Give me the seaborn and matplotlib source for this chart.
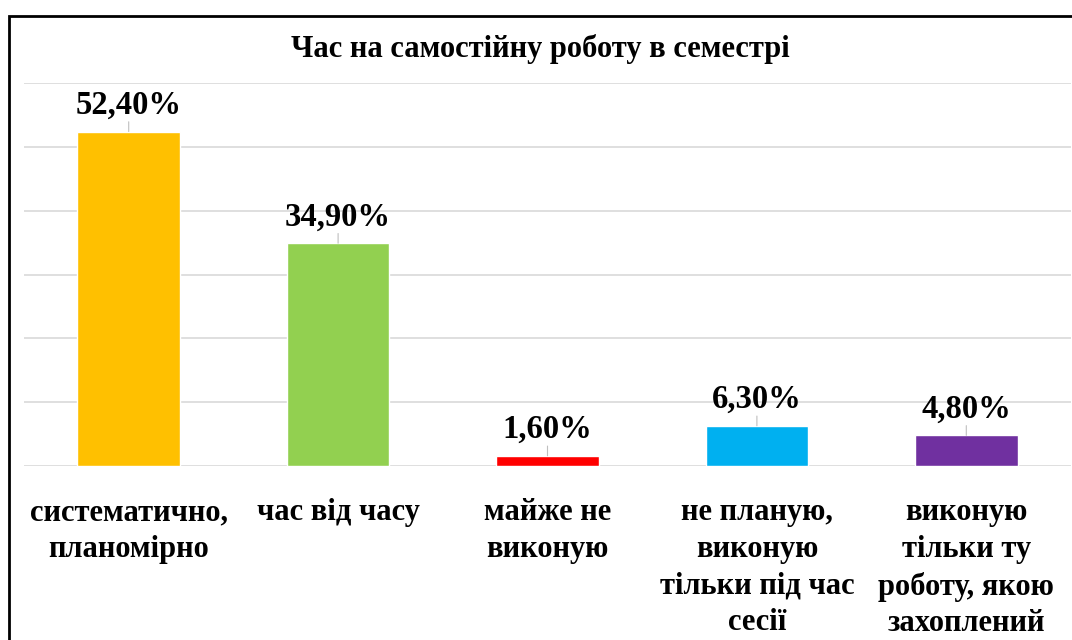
import matplotlib.pyplot as plt
import seaborn as sns
from matplotlib.patches import Rectangle

# дані з діаграми
categories = [
    "систематично,\nпланомірно",
    "час від часу",
    "майже не\nвиконую",
    "не планую,\nвиконую\nтільки під час\nсесії",
    "виконую\nтільки ту\nроботу, якою\nзахоплений",
]
values = [52.4, 34.9, 1.6, 6.3, 4.8]
labels = ["52,40%", "34,90%", "1,60%", "6,30%", "4,80%"]
colors = ["#FFC000", "#92D050", "#FF0000", "#00B0F0", "#7030A0"]
title = "Час на самостійну роботу в семестрі"

sns.set_style("white")
plt.rcParams["font.family"] = ["Liberation Serif", "DejaVu Serif"]
plt.rcParams["font.weight"] = "bold"
plt.rcParams["text.color"] = "black"
plt.rcParams["xtick.color"] = "black"

fig = plt.figure(figsize=(10.72, 6.4), dpi=100)
ax = fig.add_axes([24 / 1072, 174 / 640, 1047 / 1072, 383 / 640])

sns.barplot(x=categories, y=values, hue=categories, palette=colors,
            legend=False, width=0.49, saturation=1, ax=ax)

ax.set_ylim(0, 60)
ax.set_yticks(range(0, 61, 10))
ax.yaxis.grid(True, color="#D9D9D9", linewidth=1.2)
ax.set_axisbelow(True)
ax.set_yticklabels([])
ax.tick_params(axis="y", length=0)
ax.tick_params(axis="x", length=0, pad=23, labelsize=22, labelcolor="black")
for lbl in ax.get_xticklabels():
    lbl.set_fontweight("bold")
    lbl.set_verticalalignment("top")
    lbl.set_linespacing(1.35)
sns.despine(ax=ax, left=True, right=True, top=True, bottom=True)

# підписи значень з виносками
for i, (v, t) in enumerate(zip(values, labels)):
    ax.annotate(t, xy=(i, v), xytext=(0, 19), textcoords="offset points",
                ha="center", va="center", fontsize=23.5, fontweight="bold",
                color="black")
    ax.annotate("", xy=(i, v), xytext=(0, 7), textcoords="offset points",
                arrowprops=dict(arrowstyle="-", color="#BFBFBF", lw=0.8,
                                shrinkA=0, shrinkB=0))

fig.text(540 / 1072, 1 - 49 / 640, title, ha="center", va="center",
         fontsize=22, fontweight="bold", color="black")

# рамка діаграми
fig.patches.append(Rectangle((9 / 1072, -0.1), 1.2, 1 - 16 / 640 + 0.1,
                             transform=fig.transFigure, fill=False,
                             edgecolor="black", linewidth=2))

fig.savefig("out.png", dpi=100)
